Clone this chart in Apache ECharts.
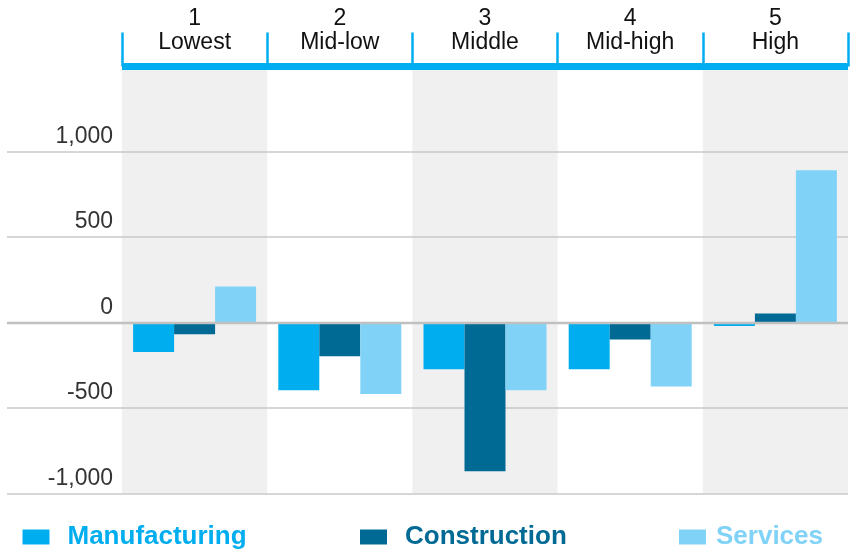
<!DOCTYPE html>
<html>
<head>
<meta charset="utf-8">
<script src="https://cdn.jsdelivr.net/npm/echarts@6/dist/echarts.min.js"></script>
<style>
  html, body { margin: 0; padding: 0; background: #fff; }
  #chart { width: 850px; height: 552px; }
</style>
</head>
<body>
<div id="chart"></div>
<script>
// --- DATA ---
const quintileNumbers = ['1', '2', '3', '4', '5'];
const quintileNames = ['Lowest', 'Mid-low', 'Middle', 'Mid-high', 'High'];
const manufacturing = [-172, -395, -273, -273, -20];
const construction = [-67, -196, -870, -98, 54];
const services = [212, -418, -395, -373, 892];
const yTicks = [-1000, -500, 0, 500, 1000];

const colors = { manufacturing: '#00aeef', construction: '#006a94', services: '#80d3f7' };
const font = '"Liberation Sans", Arial, sans-serif';

const chart = echarts.init(document.getElementById('chart'));

const categories = quintileNumbers.map((n, i) => n + '\n' + quintileNames[i]);

const barSeries = (name, data, color) => ({
    name, type: 'bar', data,
    xAxisIndex: 1, yAxisIndex: 1,
    barWidth: 41, barGap: '0%',
    itemStyle: { color },
    z: 2, animation: false
});

// one legend per item so each can sit where the original puts it
const legendAt = (left, name, color, gap) => ({
    left, top: 524, padding: 0,
    itemWidth: 27, itemHeight: 15, icon: 'rect',
    selectedMode: false,
    data: [{ name, textStyle: { color } }],
    textStyle: { fontFamily: font, fontSize: 26, fontWeight: 'bold', padding: [0, 0, 0, gap] }
});

const option = {
    animation: false,
    grid: [
        // gridlines + y labels, spanning the full width
        { left: 7, right: 2, top: 151.5, bottom: 58.5 },
        // bars + bands + header
        { left: 122, right: 2, top: 66.5, bottom: 58.5 }
    ],
    xAxis: [
        { gridIndex: 0, type: 'value', show: false },
        {
            gridIndex: 1, type: 'category', data: categories, position: 'top',
            z: 0,
            axisLine: { onZero: false, lineStyle: { color: '#00aeef', width: 7, cap: 'butt' } },
            axisTick: { show: true, length: 34, lineStyle: { color: '#00aeef', width: 2.5 } },
            axisLabel: { margin: 12, color: '#111', fontFamily: font, fontSize: 23, lineHeight: 24 },
            splitArea: { show: true, areaStyle: { color: ['#f0f0f0', 'rgba(255,255,255,0)'] } }
        }
    ],
    yAxis: [
        {
            gridIndex: 0, type: 'value', min: yTicks[0], max: yTicks[yTicks.length - 1], interval: 500,
            z: 1,
            axisLine: { show: false }, axisTick: { show: false },
            splitLine: { lineStyle: { color: '#c8c8c8', width: 1.5 } },
            axisLabel: {
                inside: true, margin: 106, align: 'right', verticalAlign: 'bottom',
                padding: [0, 0, 4, 0], lineHeight: 22,
                color: '#333', fontFamily: font, fontSize: 23,
                formatter: v => v.toLocaleString('en-US')
            }
        },
        { gridIndex: 1, type: 'value', min: -1000, max: 1500, show: false }
    ],
    legend: [
        legendAt(22.5, 'Manufacturing', colors.manufacturing, 13),
        legendAt(360, 'Construction', colors.construction, 13),
        legendAt(679, 'Services', colors.services, 5)
    ],
    series: [
        barSeries('Manufacturing', manufacturing, colors.manufacturing),
        barSeries('Construction', construction, colors.construction),
        barSeries('Services', services, colors.services),
        {
            // heavier zero line drawn over the bars
            type: 'line', xAxisIndex: 0, yAxisIndex: 0, data: [], z: 5,
            markLine: {
                silent: true, symbol: ['none', 'none'], label: { show: false },
                lineStyle: { color: '#c0c0c0', width: 2.3, type: 'solid' },
                data: [{ yAxis: 0 }]
            }
        }
    ]
};

chart.setOption(option);
</script>
</body>
</html>
